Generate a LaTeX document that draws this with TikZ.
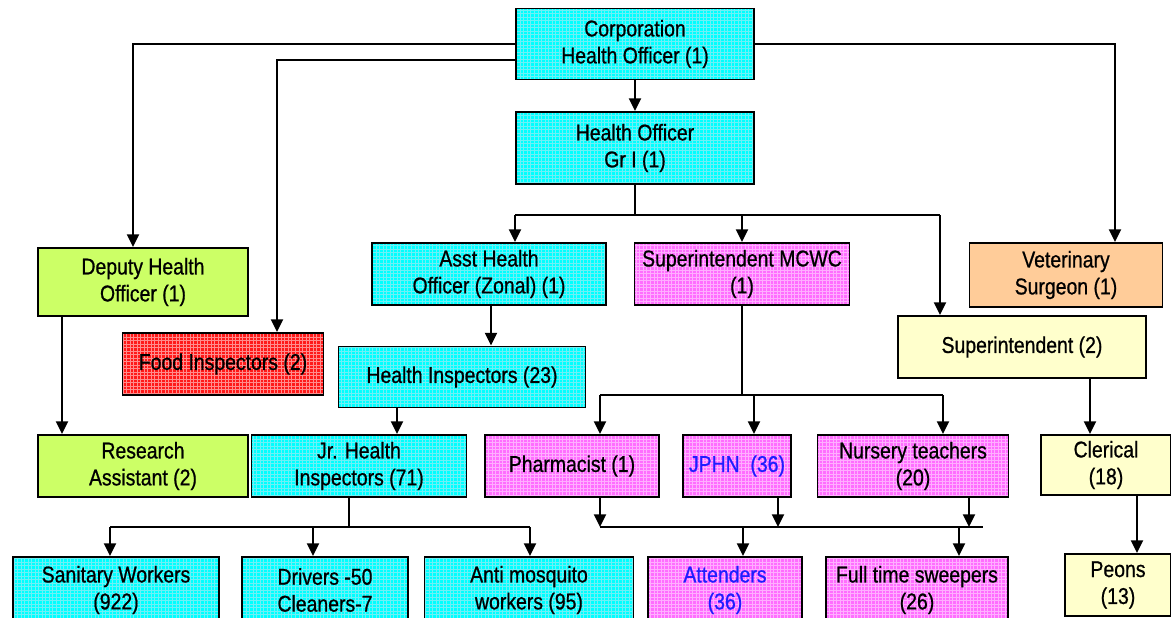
\documentclass[tikz,border=0pt]{standalone}
\usepackage{fontspec}
\setmainfont{Liberation Sans}[FakeStretch=0.85, FakeBold=0.8]
\usetikzlibrary{arrows.meta,positioning,patterns}
\definecolor{hcyan}{RGB}{0,255,255}
\definecolor{hcyangrid}{RGB}{110,240,245}
\definecolor{hpink}{RGB}{255,110,255}
\definecolor{hpinkgrid}{RGB}{255,175,255}
\definecolor{hred}{RGB}{255,25,25}
\definecolor{hredgrid}{RGB}{255,140,140}
\definecolor{hgreen}{RGB}{204,255,102}
\definecolor{hyellow}{RGB}{255,255,204}
\definecolor{hpeach}{RGB}{255,204,153}
\definecolor{hblue}{RGB}{30,30,255}
\tikzset{
  org/.style={draw, line width=1.6pt, align=center, inner sep=0pt,
    font=\fontsize{19.5}{23}\selectfont},
  wh/.style 2 args={minimum width=#1*0.03cm, minimum height=#2*0.03cm},
  gridded/.style={postaction={pattern=grid, pattern color=#1},
    postaction={draw, line width=1.6pt}},
  cyanbox/.style={org, fill=hcyan, gridded=hcyangrid},
  pinkbox/.style={org, fill=hpink, gridded=hpinkgrid},
  redbox/.style={org, fill=hred, gridded=hredgrid},
  greenbox/.style={org, fill=hgreen},
  yellowbox/.style={org, fill=hyellow},
  peachbox/.style={org, fill=hpeach},
  link/.style={line width=1.7pt},
  arr/.style={link, -{Triangle[length=0.38cm, width=0.36cm]}}
}
\begin{document}
\begin{tikzpicture}[x=0.03cm, y=-0.03cm]
\useasboundingbox (0,0) rectangle (1171,618);

% top
\node[cyanbox, wh={238}{71}] (corp) at (635,44) {Corporation\\Health Officer (1)};
\node[cyanbox, wh={238}{72}] (hogr) at (635,148) {Health Officer\\Gr I (1)};

% second row
\node[greenbox, wh={210}{68}] (dho) at (143,282) {Deputy Health\\Officer (1)};
\node[redbox, wh={201}{62}] (food) at (223,364) {Food Inspectors (2)};
\node[cyanbox, wh={234}{62}] (asst) at (489,274) {Asst Health\\Officer (Zonal) (1)};
\node[pinkbox, wh={215}{62}] (mcwc) at (742,274) {Superintendent MCWC\\(1)};
\node[peachbox, wh={193}{64}] (vet) at (1066,275) {Veterinary\\Surgeon (1)};
\node[yellowbox, wh={248}{62}] (supt) at (1022,347) {Superintendent (2)};
\node[cyanbox, wh={247}{61}] (hi) at (462,377) {Health Inspectors (23)};

% third row
\node[greenbox, wh={210}{62}] (ra) at (143,466) {Research\\Assistant (2)};
\node[cyanbox, wh={215}{62}] (jhi) at (359,466) {Jr. Health\\Inspectors (71)};
\node[pinkbox, wh={174}{62}] (pharm) at (572,466) {Pharmacist (1)};
\node[pinkbox, wh={108}{62}, text=hblue] (jphn) at (737,466) {JPHN~ (36)};
\node[pinkbox, wh={191}{62}] (nursery) at (913,466) {Nursery teachers\\(20)};
\node[yellowbox, wh={130}{60}] (clerical) at (1106,465) {Clerical\\(18)};

% bottom row
\node[cyanbox, wh={206}{66}] (sani) at (116,590) {Sanitary Workers\\(922)};
\node[cyanbox, wh={166}{66}] (drivers) at (325,590) {Drivers -50\\Cleaners-7};
\node[cyanbox, wh={209}{66}] (antimos) at (529,590) {Anti mosquito\\workers (95)};
\node[pinkbox, wh={154}{66}, text=hblue] (attend) at (725,590) {Attenders\\(36)};
\node[pinkbox, wh={182}{66}] (sweep) at (917,590) {Full time sweepers\\(26)};
\node[yellowbox, wh={106}{62}] (peons) at (1118,585) {Peons\\(13)};

% links from the top
\coordinate (ka) at (133,44);
\coordinate (kb) at (277,60);
\coordinate (kc) at (1115,44);
\draw[arr] (corp) -- (hogr);
\draw[arr] (corp.west) -| (ka |- dho.north);
\draw[arr] (corp.west |- kb) -| (kb |- food.north);
\draw[arr] (corp.east) -| (kc |- vet.north);

\coordinate (d1) at (515,215);
\coordinate (d2) at (940,215);
\draw[link] (hogr) -- (hogr |- d1);
\draw[link] (d1) -- (d2);
\draw[arr] (d1) -- (d1 |- asst.north);
\draw[arr] (d1 -| mcwc) -- (mcwc);
\draw[arr] (d2) -- (d2 |- supt.north);

\coordinate (c1) at (491,0);
\coordinate (c2) at (397,0);
\coordinate (c3) at (62,0);
\draw[arr] (asst.south -| c1) -- (hi.north -| c1);
\draw[arr] (hi.south -| c2) -- (jhi.north -| c2);
\draw[arr] (dho.south -| c3) -- (ra.north -| c3);

% MCWC branch
\coordinate (e1) at (600,395);
\coordinate (e2) at (943,395);
\coordinate (e3) at (754,395);
\draw[link] (mcwc) -- (mcwc |- e1);
\draw[link] (e1) -- (e2);
\draw[arr] (e1) -- (e1 |- pharm.north);
\draw[arr] (e3) -- (e3 |- jphn.north);
\draw[arr] (e2) -- (e2 |- nursery.north);

% bottom left
\coordinate (f0) at (349,527);
\coordinate (f1) at (110,527);
\coordinate (f2) at (313,527);
\coordinate (f3) at (530,527);
\draw[link] (jhi.south -| f0) -- (f0);
\draw[link] (f1) -- (f3);
\draw[arr] (f1) -- (f1 |- sani.north);
\draw[arr] (f2) -- (f2 |- drivers.north);
\draw[arr] (f3) -- (f3 |- antimos.north);

% bottom middle
\coordinate (g1) at (600,527);
\coordinate (g2) at (778,527);
\coordinate (g3) at (969,527);
\coordinate (g4) at (983,527);
\coordinate (g5) at (743,527);
\coordinate (g6) at (959,527);
\draw[arr] (pharm.south -| g1) -- (g1);
\draw[arr] (jphn.south -| g2) -- (g2);
\draw[arr] (nursery.south -| g3) -- (g3);
\draw[link] (g1) -- (g4);
\draw[arr] (g5) -- (g5 |- attend.north);
\draw[arr] (g6) -- (g6 |- sweep.north);

% right
\coordinate (h1) at (1090,0);
\coordinate (h2) at (1137,0);
\draw[arr] (supt.south -| h1) -- (clerical.north -| h1);
\draw[arr] (clerical.south -| h2) -- (peons.north -| h2);

\end{tikzpicture}
\end{document}
